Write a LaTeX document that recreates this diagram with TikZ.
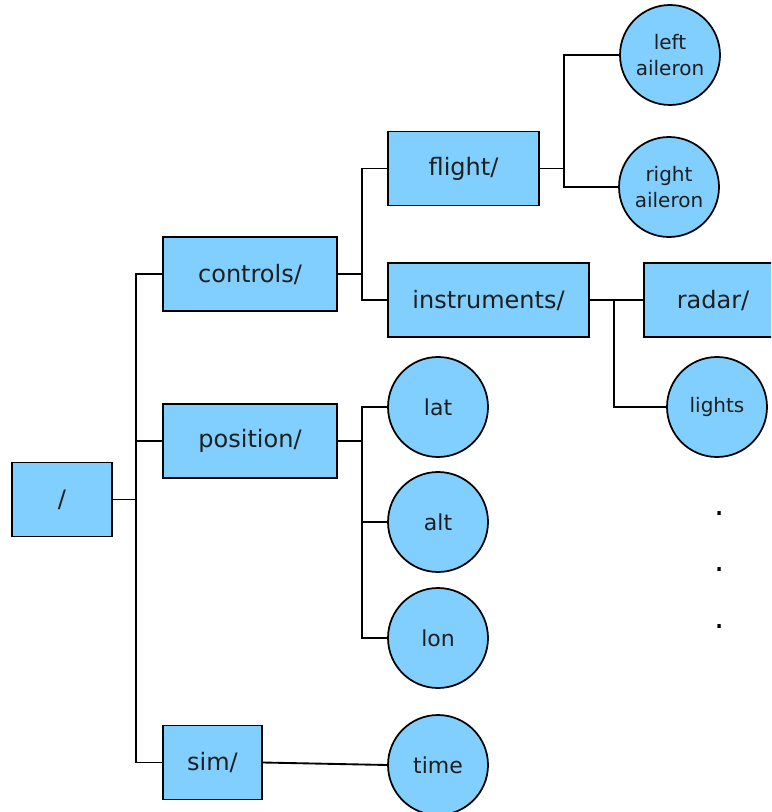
\documentclass[tikz,border=0pt]{standalone}
\usepackage{fontspec}
\setmainfont{DejaVu Sans}
\usepackage{tikz}

\definecolor{treeblue}{RGB}{128,207,255}
\definecolor{inkgray}{RGB}{30,30,30}

\begin{document}
\begin{tikzpicture}[x=0.75pt,y=0.75pt,yscale=-1,xscale=1,
  dirbox/.style={draw, fill=treeblue, line width=1.3pt, text=inkgray, minimum height=55.5pt, inner sep=0pt, font=\fontsize{18}{20}\selectfont},
  leaf/.style={draw, circle, fill=treeblue, line width=1.3pt, text=inkgray, minimum size=75pt, inner sep=0pt, align=center, font=\fontsize{16.5}{18}\selectfont},
  smallleaf/.style={leaf, font=\fontsize{15}{20}\selectfont},
  wire/.style={line width=1.4pt}]
%set diagram left start at 0, and has height of 812
\useasboundingbox (0,0) rectangle (771,812);
\clip (0,0) rectangle (771,812);
% Directory Nodes
\node [dirbox, minimum width=75pt] (root) at (62,499.5) {/};
\node [dirbox, minimum width=130.5pt] (controls) at (250,274) {controls/};
\node [dirbox, minimum width=130.5pt] (position) at (250,441) {position/};
\node [dirbox, minimum width=74.25pt] (sim) at (212.5,762.5) {sim/};
\node [dirbox, minimum width=113.25pt] (flight) at (463.5,168.5) {flight/};
\node [dirbox, minimum width=150.75pt] (instruments) at (488.5,300) {instruments/};
\node [dirbox, minimum width=103.5pt] (radar) at (713,300) {radar/};
% Leaf Nodes
\node [smallleaf] (leftail) at (670,55) {left\\aileron};
\node [smallleaf] (rightail) at (669,187) {right\\aileron};
\node [smallleaf] (lights) at (717,407) {lights};
\node [leaf] (lat) at (438,407) {lat};
\node [leaf] (alt) at (438,522) {alt};
\node [leaf] (lon) at (438,638) {lon};
\node [leaf] (time) at (438,765) {time};
% Dots
\node [font=\fontsize{24}{24}\selectfont, inner sep=0pt] (dota) at (720,514) {.};
\node [font=\fontsize{24}{24}\selectfont, inner sep=0pt] (dotb) at (720,570) {.};
\node [font=\fontsize{24}{24}\selectfont, inner sep=0pt] (dotc) at (720,627) {.};
% Bus Points
\coordinate (rootbus) at (136,499.5);
\coordinate (ctrlbus) at (362,274);
\coordinate (posbus) at (362,441);
\coordinate (flightbus) at (564,168.5);
\coordinate (instbus) at (614,300);
% Connectors
\draw [wire] (root.east) -- (rootbus) |- (controls.west);
\draw [wire] (rootbus) |- (position.west);
\draw [wire] (rootbus) |- (sim.west);
\draw [wire] (controls.east) -- (ctrlbus) |- (flight.west);
\draw [wire] (ctrlbus) |- (instruments.west);
\draw [wire] (flight.east) -- (flightbus) |- (leftail.west);
\draw [wire] (flightbus) |- (rightail.west);
\draw [wire] (instruments.east) -- (radar.west);
\draw [wire] (instbus) |- (lights.west);
\draw [wire] (position.east) -- (posbus) |- (lat.west);
\draw [wire] (posbus) |- (alt.west);
\draw [wire] (posbus) |- (lon.west);
\draw [wire] (sim.east) -- (time.west);
\end{tikzpicture}
\end{document}
